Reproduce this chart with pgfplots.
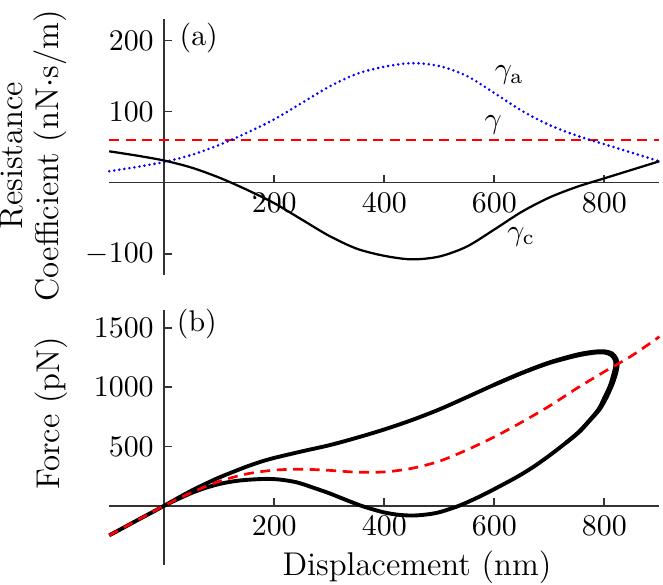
\documentclass[border=0pt]{standalone}
\usepackage{pgfplots}
\pgfplotsset{compat=1.18}
\begin{document}
\begin{tikzpicture}
\useasboundingbox (0,0) rectangle (221bp,194.67bp);
\pgfplotsset{
  myaxis/.style={
    scale only axis, width=183.4bp,
    axis lines=middle, xmin=-100, xmax=900,
    enlargelimits=false, clip=false,
    xtick={200,400,600,800},
    tick align=inside, major tick length=2.5bp,
    axis line style={-, black!80, line width=0.6pt},
    every inner x axis line/.append style={-},
    every inner y axis line/.append style={-},
    tick style={black!80, line width=0.6pt},
    tick label style={font=\fontsize{10}{12}\selectfont},
    /pgf/number format/1000 sep={},
  }
}
% ---------------- panel (a) ----------------
\begin{axis}[myaxis,
  at={(36.4bp,103bp)}, anchor=south west,
  height=85.3bp,
  ymin=-130, ymax=230,
  ytick={-100,100,200},
]
\addplot[red, line width=0.9pt, dash pattern=on 3.3bp off 2.2bp] coordinates {(-100,60) (900,60)};
\addplot[blue, line width=0.95pt, line cap=round, dash pattern=on 0pt off 1.7bp, smooth] coordinates {
(-100,16) (-50,22) (0,29) (50,39) (100,53) (150,70) (200,89) (250,112) (300,135) (350,153) (400,163) (450,168) (500,164) (550,150) (600,126) (650,101) (700,81) (750,66) (800,54) (850,42) (900,30)};
\addplot[black, line width=0.75pt, smooth] coordinates {
(-100,44) (-50,38) (0,31) (50,21) (100,7) (150,-10) (200,-29) (250,-52) (300,-75) (350,-93) (400,-103) (450,-108) (500,-104) (550,-90) (600,-66) (650,-41) (700,-21) (750,-6) (800,6) (850,18) (900,30)};
\node[anchor=west, inner sep=0pt, font=\fontsize{10}{12}\selectfont] at (axis cs:27,204) {(a)};
\node[inner sep=0pt] at (axis cs:627,151) {$\gamma_{\mathrm{a}}$};
\node[inner sep=0pt] at (axis cs:598,81) {$\gamma$};
\node[inner sep=0pt] at (axis cs:649,-76) {$\gamma_{\mathrm{c}}$};
\end{axis}
% ---------------- panel (b) ----------------
\begin{axis}[myaxis,
  at={(36.4bp,6.33bp)}, anchor=south west,
  height=85bp,
  ymin=-500, ymax=1650,
  ytick={500,1000,1500},
]
\addplot[black, line width=1.3pt, smooth] coordinates {
(-100,-250) (-75,-188) (-50,-125) (-25,-63) (0,0) (25,65) (50,128) (75,185) (100,238) (125,285) (150,330) (175,370) (200,403) (250,458) (300,510) (350,573) (400,643) (450,722) (500,812) (550,915) (600,1020) (650,1118) (700,1203) (750,1265) (780,1289) (800,1292) (812,1272) (819,1230) (820,1180) (816,1100) (810,1010) (800,910) (789,810) (770,705) (753,620) (730,530) (705,440) (675,340) (644,250) (600,140) (570,70) (536,0) (500,-55) (475,-75) (450,-83) (425,-76) (400,-57) (375,-25) (356,3) (327,55) (300,105) (266,160) (240,198) (211,220) (185,226) (150,218) (125,205) (100,183) (75,150) (50,108) (25,56) (0,0)};
\addplot[black, line width=1.3pt, smooth] coordinates {
(600,1020) (650,1120) (700,1208) (750,1274) (780,1298) (800,1302) (814,1284) (822,1238) (824,1180) (820,1095) (813,1005) (803,905) (791,810) (771,705) (754,620) (730,530)};
\addplot[red, line width=0.9pt, dash pattern=on 3.3bp off 2.2bp, smooth] coordinates {
(-100,-250) (-50,-125) (0,0) (50,112) (100,205) (150,268) (200,300) (250,308) (300,298) (350,283) (400,285) (450,315) (500,375) (550,470) (600,580) (650,705) (700,840) (750,990) (800,1130) (850,1265) (900,1425)};
\node[anchor=west, inner sep=0pt, font=\fontsize{10}{12}\selectfont] at (axis cs:22,1530) {(b)};
\end{axis}
\node[rotate=90, align=center, font=\fontsize{11}{12}\selectfont] at (11bp,142.7bp) {Resistance\\Coefficient (nN$\cdot$s/m)};
\node[rotate=90, font=\fontsize{11}{13}\selectfont] at (17.2bp,56.9bp) {Force (pN)};
\node[font=\fontsize{11}{13}\selectfont] at (139bp,5.6bp) {Displacement (nm)};
\end{tikzpicture}
\end{document}
